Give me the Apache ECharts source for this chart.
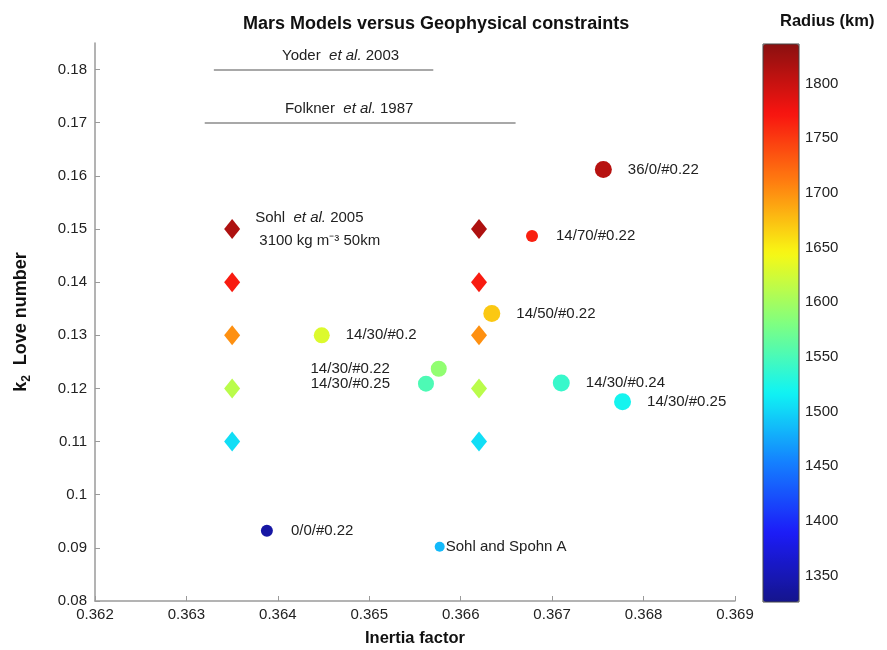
<!DOCTYPE html>
<html><head><meta charset="utf-8">
<script src="https://cdn.jsdelivr.net/npm/echarts@6/dist/echarts.min.js"></script>
<style>html,body{margin:0;padding:0;background:#fff}#c{width:887px;height:650px}</style>
</head><body><div id="c"></div>
<script>
// ---------- data ----------
const xTicks = [0.362, 0.363, 0.364, 0.365, 0.366, 0.367, 0.368, 0.369];
const yTicks = [0.08, 0.09, 0.10, 0.11, 0.12, 0.13, 0.14, 0.15, 0.16, 0.17, 0.18];
const yTop = 0.185;
const radiusMin = 1326, radiusMax = 1836;

// Sohl et al. 2005 models (diamonds): two inertia columns x five k2 rows
const sohlInertia = [0.3635, 0.3662];
const sohlK2 = [0.15, 0.14, 0.13, 0.12, 0.11];
const sohlRadius = [1815, 1768, 1700, 1612, 1505];

// Model circles
const modelNames = ['36/0/#0.22', '14/70/#0.22', '14/50/#0.22', '14/30/#0.2', '14/30/#0.22',
  '14/30/#0.25', '14/30/#0.24', '14/30/#0.25', '0/0/#0.22', 'Sohl and Spohn A'];
const modelInertia = [0.36756, 0.36678, 0.36634, 0.36448, 0.36576, 0.36562, 0.36710, 0.36777, 0.36388, 0.36577];
const modelK2 = [0.1612, 0.1487, 0.1341, 0.1300, 0.1237, 0.1209, 0.1210, 0.1175, 0.0932, 0.0902];
const modelRadius = [1810, 1765, 1670, 1630, 1590, 1552, 1540, 1520, 1340, 1485];

// Geophysical constraints (horizontal ranges)
const constraintAuthor = ['Yoder', 'Folkner'];
const constraintYear = ['2003', '1987'];
const constraintK2 = [0.18, 0.17];
const constraintFrom = [0.3633, 0.3632];
const constraintTo = [0.3657, 0.3666];

// ---------- styles ----------
const FONT = '"Liberation Sans", Arial, Helvetica, sans-serif';
const TXT = '#222';
const jet = ['#14148c', '#1c1cf8', '#1480ff', '#10f4f4', '#80ff80', '#f8f814', '#ff8010', '#f81410', '#8a1010'];
const modelSize = [17, 12, 17, 16, 16, 16, 17, 17, 12, 10];
const modelLabel = [
  {position: 'right', distance: 16}, {position: 'right', distance: 18}, {position: 'right', distance: 16},
  {position: 'right', distance: 16}, {position: 'left', distance: 41}, {position: 'left', distance: 28},
  {position: 'right', distance: 16}, {position: 'right', distance: 16}, {position: 'right', distance: 18},
  {position: 'right', distance: 1}
];
const constraintPad = [[0, 0, 0, 34], [0, 22, 0, 0]];
const textRich = {
  n: {fontFamily: FONT, fontSize: 15, color: TXT},
  i: {fontFamily: FONT, fontSize: 15, color: TXT, fontStyle: 'italic'}
};

// ---------- build ----------
const diamondData = [];
sohlInertia.forEach((x, ci) => {
  sohlK2.forEach((k, ri) => {
    const item = {value: [x, k, sohlRadius[ri]]};
    if (ci === 0 && ri === 0) {
      item.label = {
        show: true, position: 'right', distance: 15,
        formatter: '{n|Sohl  }{i|et al.}{n| 2005}\n{n| 3100 kg m⁻³ 50km}',
        rich: {n: Object.assign({}, textRich.n, {lineHeight: 23}), i: Object.assign({}, textRich.i, {lineHeight: 23})}
      };
    }
    diamondData.push(item);
  });
});

const modelData = modelNames.map((n, i) => ({
  value: [modelInertia[i], modelK2[i], modelRadius[i]],
  name: n,
  symbolSize: modelSize[i],
  label: Object.assign({show: true, formatter: n, fontFamily: FONT, fontSize: 15, color: TXT}, modelLabel[i])
}));

const constraintSeries = constraintAuthor.map((a, i) => ({
  type: 'line', xAxisIndex: 0, yAxisIndex: 0, data: [], silent: true, animation: false,
  markLine: {
    silent: true, animation: false, symbol: ['none', 'none'],
    lineStyle: {color: '#a8a8a8', width: 2, type: 'solid'},
    label: {
      show: true, position: 'insideMiddleTop', distance: 6,
      formatter: '{n|' + a + '  }{i|et al.}{n| ' + constraintYear[i] + '}',
      rich: textRich, padding: constraintPad[i]
    },
    emphasis: {disabled: true},
    data: [[{coord: [constraintFrom[i], constraintK2[i]]}, {coord: [constraintTo[i], constraintK2[i]]}]]
  }
}));

const axisLabelStyle = {fontFamily: FONT, fontSize: 15, color: TXT};
const option = {
  animation: false,
  backgroundColor: '#fff',
  title: [
    {text: 'Mars Models versus Geophysical constraints', left: 238, top: 10,
     textStyle: {fontFamily: FONT, fontSize: 18, fontWeight: 'bold', color: '#111'}},
    {text: 'Radius (km)', left: 775, top: 8,
     textStyle: {fontFamily: FONT, fontSize: 16.5, fontWeight: 'bold', color: '#111'}}
  ],
  grid: [
    {left: 95, right: 152, top: 43, bottom: 49, containLabel: false, outerBoundsMode: 'none'},
    {left: 763, width: 36, top: 44, height: 558, show: true, borderColor: '#444', borderWidth: 1,
     backgroundColor: 'transparent', z: 10, containLabel: false, outerBoundsMode: 'none'}
  ],
  xAxis: [
    {type: 'value', gridIndex: 0, min: xTicks[0], max: xTicks[xTicks.length - 1], interval: 0.001,
     name: 'Inertia factor', nameLocation: 'middle', nameGap: 29,
     nameTextStyle: {fontFamily: FONT, fontSize: 16.5, fontWeight: 'bold', color: '#111'},
     axisLine: {show: true, onZero: false, lineStyle: {color: '#9a9a9a', width: 1.5}},
     axisTick: {show: true, inside: true, length: 5, lineStyle: {color: '#9a9a9a'}},
     axisLabel: Object.assign({margin: 6, formatter: v => v.toFixed(3)}, axisLabelStyle),
     splitLine: {show: false}},
    {type: 'value', gridIndex: 1, show: false, min: 0, max: 1}
  ],
  yAxis: [
    {type: 'value', gridIndex: 0, min: yTicks[0], max: yTop, interval: 0.01,
     name: '{k|k}{s|2}{n|  Love number}', nameLocation: 'middle', nameGap: 62, nameRotate: 90,
     nameTextStyle: {rich: {
       k: {fontFamily: FONT, fontSize: 18, fontWeight: 'bold', color: '#111'},
       s: {fontFamily: FONT, fontSize: 12, fontWeight: 'bold', color: '#111', padding: [11, 0, 0, 0]},
       n: {fontFamily: FONT, fontSize: 18, fontWeight: 'bold', color: '#111'}}},
     axisLine: {show: true, onZero: false, lineStyle: {color: '#9a9a9a', width: 1.5}},
     axisTick: {show: true, inside: true, length: 5, lineStyle: {color: '#9a9a9a'}},
     axisLabel: Object.assign({margin: 8, showMaxLabel: false,
       formatter: v => (Math.abs(v - yTop) < 1e-9 ? '' : String(Math.round(v * 100) / 100))}, axisLabelStyle),
     splitLine: {show: false}},
    {type: 'value', gridIndex: 1, position: 'right', min: radiusMin, max: radiusMax, splitNumber: 10,
     axisLine: {show: false},
     axisTick: {show: false},
     axisLabel: Object.assign({margin: 6, showMinLabel: false, showMaxLabel: false,
       formatter: v => String(v)}, axisLabelStyle),
     splitLine: {show: false}}
  ],
  visualMap: {
    type: 'continuous', min: radiusMin, max: radiusMax, dimension: 2, seriesIndex: [0, 1],
    calculable: false, hoverLink: false, orient: 'vertical', padding: 0,
    left: 763, top: 44, itemWidth: 36, itemHeight: 558, text: null,
    inRange: {color: jet}
  },
  series: [
    {type: 'scatter', symbol: 'diamond', symbolSize: [16, 20], data: diamondData, silent: true,
     itemStyle: {opacity: 1}},
    {type: 'scatter', symbol: 'circle', data: modelData, silent: true, itemStyle: {opacity: 1}}
  ].concat(constraintSeries)
};
const chart = echarts.init(document.getElementById('c'), null, {renderer: 'canvas'});
chart.setOption(option);
</script>
</body></html>
